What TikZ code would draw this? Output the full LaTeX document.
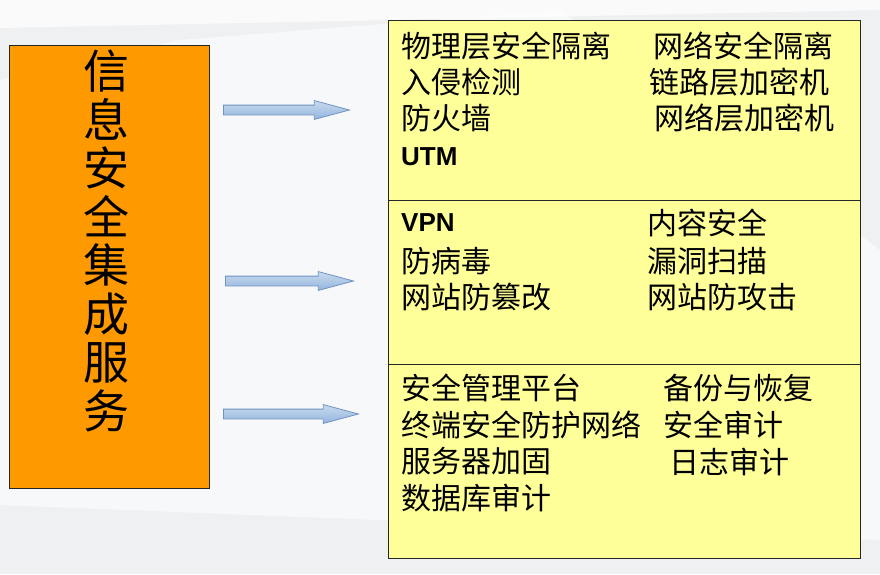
\documentclass[tikz,border=0pt]{standalone}
\usepackage{fontspec}
\newfontfamily\cjk{Noto Sans CJK SC}
\newfontfamily\latinbold{Liberation Sans}
\usetikzlibrary{shapes.arrows}

\definecolor{bggray}{HTML}{EFF0F2}
\definecolor{boxorange}{HTML}{FF9900}
\definecolor{boxyellow}{HTML}{FFFF99}
\definecolor{arrowtop}{HTML}{C9DBF0}
\definecolor{arrowbot}{HTML}{93B4DC}
\definecolor{arrowline}{HTML}{6E93C4}

\tikzset{
  mainbox/.style={draw=black!85, line width=1.2pt, fill=boxorange, anchor=north west, inner sep=0pt},
  groupbox/.style={draw=black!85, line width=1.3pt, fill=boxyellow, anchor=north west, inner sep=0pt},
  item/.style={anchor=west, inner sep=0pt, font=\cjk\fontsize{30}{34}\selectfont},
  itembold/.style={anchor=west, inner sep=0pt, font=\latinbold\bfseries\fontsize{26}{30}\selectfont},
  blockarrow/.style={single arrow, shape border rotate=0, draw=arrowline, line width=0.8pt,
    top color=arrowtop, bottom color=arrowbot, inner xsep=0pt, inner ysep=4.5pt,
    text height=0pt, text depth=0pt, single arrow head extend=4.5pt, single arrow tip angle=30}
}

\begin{document}
\begin{tikzpicture}[x=1pt, y=-1pt]

  % background
  \fill[bggray] (0,0) rectangle (880,574);
  \fill[white, opacity=0.7] (0,0) -- (880,0) -- (880,10) -- (0,28) -- cycle;
  \fill[white, opacity=0.55] (180,40) -- (560,10) -- (880,250) -- (880,540) -- (0,505) -- (0,80) -- cycle;
  \useasboundingbox (0,0) rectangle (880,574);

  % left box
  \node[mainbox, minimum width=200pt, minimum height=443pt] (svc) at (8.5,45) {};
  \node[font=\cjk\fontsize{46}{48.5}\selectfont, align=center, anchor=north, inner sep=0pt]
    (svctext) at (106,50) {信\\息\\安\\全\\集\\成\\服\\务};

  % right boxes
  \node[groupbox, minimum width=472pt, minimum height=180pt] (net) at (388,20) {};
  \node[groupbox, minimum width=472pt, minimum height=164pt] (app) at (388,200) {};
  \node[groupbox, minimum width=472pt, minimum height=194pt] (mgmt) at (388,364) {};

  % first group
  \node[item] (n1) at (401,46) {物理层安全隔离};
  \node[item] (n2) at (401,82) {入侵检测};
  \node[item] (n3) at (401,118.5) {防火墙};
  \node[itembold] (n4) at (401,157) {UTM};
  \node[item] (n5) at (653,46) {网络安全隔离};
  \node[item] (n6) at (649,82) {链路层加密机};
  \node[item] (n7) at (654,118.5) {网络层加密机};

  % second group
  \node[itembold] (a1) at (401,223) {VPN};
  \node[item] (a2) at (401,261) {防病毒};
  \node[item] (a3) at (401,297.5) {网站防篡改};
  \node[item] (a4) at (647,223) {内容安全};
  \node[item] (a5) at (647,261) {漏洞扫描};
  \node[item] (a6) at (647,297.5) {网站防攻击};

  % third group
  \node[item] (m1) at (401,388) {安全管理平台};
  \node[item] (m2) at (401,425) {终端安全防护网络};
  \node[item] (m3) at (401,461.5) {服务器加固};
  \node[item] (m4) at (401,498) {数据库审计};
  \node[item] (m5) at (663,388) {备份与恢复};
  \node[item] (m6) at (663,425) {安全审计};
  \node[item] (m7) at (669,461.5) {日志审计};

  % arrows
  \node[blockarrow, minimum height=126pt, anchor=west] (arr1) at (223,110) {};
  \node[blockarrow, minimum height=128pt, anchor=west] (arr2) at (225,281) {};
  \node[blockarrow, minimum height=135pt, anchor=west] (arr3) at (223,414) {};

\end{tikzpicture}
\end{document}
